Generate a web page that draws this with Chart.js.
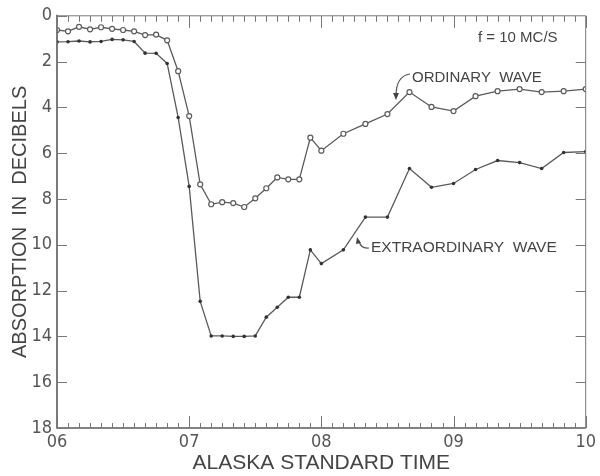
<!DOCTYPE html>
<html>
<head>
<meta charset="utf-8">
<script src="https://cdn.jsdelivr.net/npm/chart.js@4/dist/chart.umd.min.js"></script>
<style>
  html, body { margin: 0; padding: 0; background: #fff; }
  #wrap { width: 600px; height: 476px; }
</style>
</head>
<body>
<div id="wrap"><canvas id="grafico" width="600" height="476"></canvas></div>
<script>
// Minutos desde las 06:00 (hora estandar de Alaska)
const tiempos = [0, 5, 10, 15, 20, 25, 30, 35, 40, 45, 50, 55, 60, 65, 70, 75, 80, 85, 90, 95, 100, 105, 110, 115, 120,
  130, 140, 150, 160, 170, 180, 190, 200, 210, 220, 230, 240];

// Absorcion en dB, onda ordinaria
const ondaOrdinaria = [0.62, 0.68, 0.48, 0.59, 0.50, 0.57, 0.62, 0.68, 0.84, 0.82, 1.07, 2.42, 4.38, 7.36, 8.23, 8.14, 8.18, 8.35, 7.97, 7.53, 7.06, 7.14, 7.14, 5.32, 5.89,
  5.15, 4.72, 4.29, 3.33, 3.98, 4.16, 3.51, 3.29, 3.20, 3.33, 3.29, 3.20];

// Absorcion en dB, onda extraordinaria
const ondaExtraordinaria = [1.14, 1.13, 1.10, 1.14, 1.12, 1.03, 1.05, 1.12, 1.63, 1.64, 2.08, 4.44, 7.45, 12.47, 13.98, 13.98, 14.0, 14.0, 13.98, 13.16, 12.73, 12.29, 12.29, 10.22, 10.82,
  10.22, 8.79, 8.79, 6.67, 7.49, 7.32, 6.71, 6.32, 6.41, 6.67, 5.97, 5.93];

const etiquetasHora = ['06', '07', '08', '09', '10'];
const etiquetasY = ['0', '2', '4', '6', '8', '10', '12', '14', '16', '18'];

const gris = '#5a5a5a';
const fuenteNum = "'Liberation Sans Narrow', 'DejaVu Sans Condensed', 'Liberation Sans', sans-serif";
const fuenteTxt = "'Liberation Sans', 'DejaVu Sans', sans-serif";

// Marcas hacia adentro, bordes y anotaciones
const marcos = {
  id: 'marcos',
  afterDraw(chart) {
    const ctx = chart.ctx;
    const a = chart.chartArea;
    const sx = chart.scales.x, sy = chart.scales.y;
    ctx.save();
    ctx.strokeStyle = '#777';
    ctx.lineWidth = 1;
    ctx.beginPath();
    ctx.moveTo(a.left, a.top); ctx.lineTo(a.right, a.top); ctx.lineTo(a.right, a.bottom);
    ctx.stroke();
    ctx.strokeStyle = gris;
    ctx.lineWidth = 1.6;
    ctx.beginPath();
    ctx.moveTo(a.left, a.top - 1); ctx.lineTo(a.left, a.bottom); ctx.lineTo(a.right, a.bottom);
    ctx.stroke();

    ctx.lineWidth = 1;
    ctx.strokeStyle = '#777';
    ctx.beginPath();
    for (let t = 0; t <= 240; t += 5) {
      const x = Math.round(sx.getPixelForValue(t)) + 0.5;
      const largo = t % 60 === 0 ? 12 : 6;
      ctx.moveTo(x, a.top); ctx.lineTo(x, a.top + largo);
      ctx.moveTo(x, a.bottom); ctx.lineTo(x, a.bottom - (t % 60 === 0 ? 12 : 5));
    }
    etiquetasY.forEach(v => {
      const y = Math.round(sy.getPixelForValue(Number(v))) + 0.5;
      ctx.moveTo(a.left, y); ctx.lineTo(a.left + 10, y);
      if (v !== '0' && v !== '18') { ctx.moveTo(a.right, y); ctx.lineTo(a.right - 10, y); }
    });
    ctx.stroke();

    // f = 10 Mc/s
    ctx.fillStyle = '#444';
    ctx.textBaseline = 'middle';
    ctx.font = "15px " + fuenteTxt;
    ctx.fillText('f = 10 MC/S', 478, 38);

    // Etiquetas de curvas
    ctx.font = "15px " + fuenteTxt;
    ctx.fillText('ORDINARY  WAVE', 412, 78);
    ctx.font = "15.5px " + fuenteTxt;
    ctx.fillText('EXTRAORDINARY  WAVE', 371, 248);

    ctx.strokeStyle = '#555';
    ctx.lineWidth = 1.2;
    ctx.beginPath();
    ctx.moveTo(410, 74);
    ctx.quadraticCurveTo(396, 76, 396, 96);
    ctx.stroke();
    ctx.beginPath();
    ctx.moveTo(393, 93); ctx.lineTo(396, 100); ctx.lineTo(399, 93);
    ctx.fill();

    ctx.beginPath();
    ctx.moveTo(369, 248);
    ctx.quadraticCurveTo(361, 249, 359, 241);
    ctx.stroke();
    ctx.beginPath();
    ctx.moveTo(356, 244); ctx.lineTo(357, 237); ctx.lineTo(361, 243);
    ctx.fill();
    ctx.restore();
  }
};

const ctx = document.getElementById('grafico').getContext('2d');
const myChart = new Chart(ctx, {
  type: 'line',
  data: {
    datasets: [{
      label: 'Ordinary wave',
      data: tiempos.map((t, i) => ({ x: t, y: ondaOrdinaria[i] })),
      borderColor: gris,
      borderWidth: 1.3,
      pointRadius: 2.5,
      pointBorderWidth: 1.2,
      pointBorderColor: gris,
      pointBackgroundColor: '#fff',
      tension: 0
    }, {
      label: 'Extraordinary wave',
      data: tiempos.map((t, i) => ({ x: t, y: ondaExtraordinaria[i] })),
      borderColor: gris,
      borderWidth: 1.3,
      pointRadius: 1.8,
      pointBorderWidth: 0,
      pointBackgroundColor: '#333',
      tension: 0
    }]
  },
  options: {
    responsive: false,
    animation: false,
    layout: { padding: { top: 13, right: 3, left: 0, bottom: 0 } },
    plugins: { legend: { display: false }, tooltip: { enabled: false } },
    scales: {
      x: {
        type: 'linear',
        min: 0,
        max: 240,
        border: { display: false },
        grid: { display: false, drawTicks: false },
        ticks: {
          stepSize: 60,
          padding: 4,
          color: '#555',
          font: { family: fuenteNum, size: 18 },
          callback: v => etiquetasHora[v / 60]
        },
        title: {
          display: true,
          text: 'ALASKA STANDARD TIME',
          color: '#444',
          font: { family: fuenteTxt, size: 21 },
          padding: { top: 3, bottom: 0 }
        },
        afterFit: s => { s.height = 48; }
      },
      y: {
        reverse: true,
        min: 0,
        max: 18,
        border: { display: false },
        grid: { display: false, drawTicks: false },
        ticks: {
          stepSize: 2,
          padding: 5,
          color: '#555',
          font: { family: fuenteNum, size: 18 },
          callback: v => etiquetasY[Math.round(v / 2)]
        },
        title: {
          display: true,
          text: 'ABSORPTION  IN  DECIBELS',
          color: '#444',
          font: { family: fuenteTxt, size: 20 },
          padding: { top: 8, bottom: 0 }
        },
        afterFit: s => { s.width = 57; }
      }
    }
  },
  plugins: [marcos]
});
</script>
</body>
</html>
